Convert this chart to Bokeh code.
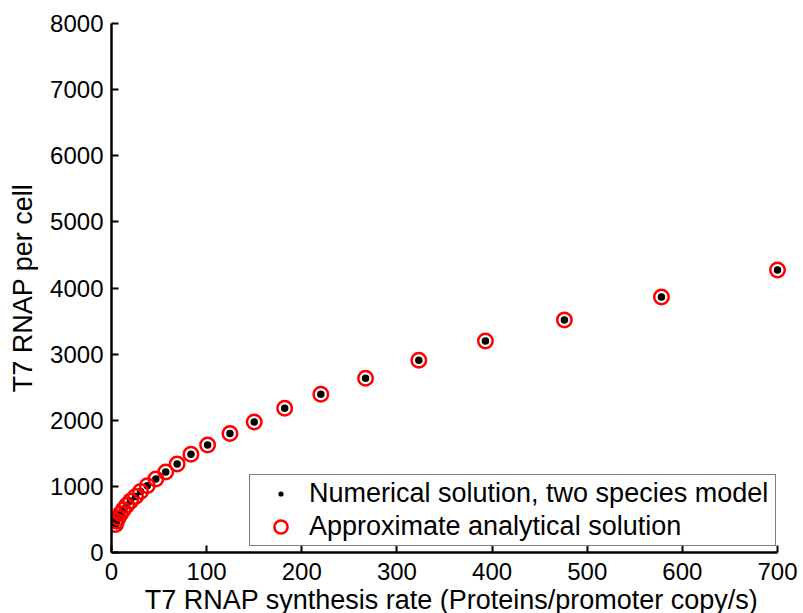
from bokeh.plotting import figure
from bokeh.models import Range1d, FixedTicker, Legend, LegendItem, ColumnDataSource
from bokeh.embed import file_html
from bokeh.resources import INLINE

# ---- data ----
synthesis_rate = [4.2, 5.3, 7.0, 9.5, 12.3, 15.8, 20.0, 25.3, 30.5, 37.6, 46.6, 57.0,
                  69.0, 83.5, 101.0, 124.5, 150.0, 182.0, 220.0, 267.0, 323.0, 393.0,
                  476.0, 578.0, 700.0]
rnap_numerical = [424, 474, 526, 586, 647, 712, 777, 848, 924, 1011, 1111, 1217,
                  1338, 1485, 1626, 1798, 1974, 2182, 2394, 2636, 2909, 3197,
                  3515, 3864, 4273]
rnap_analytical = [424, 474, 526, 586, 647, 712, 777, 848, 924, 1011, 1111, 1217,
                   1338, 1485, 1626, 1798, 1974, 2182, 2394, 2636, 2909, 3197,
                   3515, 3864, 4273]
x_ticks = [0, 100, 200, 300, 400, 500, 600, 700]
y_ticks = [0, 1000, 2000, 3000, 4000, 5000, 6000, 7000, 8000]
legend_labels = ["Numerical solution, two species model", "Approximate analytical solution"]
x_label = "T7 RNAP synthesis rate (Proteins/promoter copy/s)"
y_label = "T7 RNAP per cell"

source = ColumnDataSource(dict(x=synthesis_rate, num=rnap_numerical, ana=rnap_analytical))

FONT = "Liberation Sans"

p = figure(frame_width=680, frame_height=529,
           min_border_left=111, min_border_right=12, min_border_top=23, min_border_bottom=61,
           x_range=Range1d(0, 714.7), y_range=Range1d(0, 8000),
           output_backend="svg", toolbar_location=None)
p.outline_line_color = None
p.grid.visible = False
p.background_fill_color = "white"
p.border_fill_color = "white"

# legend swatch for the small black dot: drawn first (white on white, hidden under the marks);
# in the legend its white stroke trims the swatch down to a small dot
r_num_key = p.scatter("x", "num", source=source, marker="circle", size=1,
                      line_color="white", line_width=8, fill_color="black")
# data marks
r_num = p.scatter("x", "num", source=source, marker="circle", size=7.5,
                  line_color=None, fill_color="black")
r_ana = p.scatter("x", "ana", source=source, marker="circle", size=14.5,
                  line_color="#ff0000", line_width=2.5, fill_color=None)

xa = p.xaxis[0]
xa.ticker = FixedTicker(ticks=x_ticks)
xa.bounds = (0, 700)
ya = p.yaxis[0]
ya.ticker = FixedTicker(ticks=y_ticks)

for ax in (xa, ya):
    ax.axis_line_width = 2.5
    ax.axis_line_color = "black"
    ax.major_tick_line_width = 2
    ax.major_tick_line_color = "black"
    ax.major_tick_in = 7
    ax.major_tick_out = 0
    ax.minor_tick_line_color = None
    ax.major_label_text_font = FONT
    ax.major_label_text_font_size = "24px"
    ax.major_label_text_color = "black"
    ax.axis_label_text_font = FONT
    ax.axis_label_text_font_size = "27px"
    ax.axis_label_text_font_style = "normal"
    ax.axis_label_text_color = "black"

xa.axis_label = x_label
ya.axis_label = y_label
xa.major_label_standoff = 10
ya.major_label_standoff = 8
xa.axis_label_standoff = 2
ya.axis_label_standoff = 9

legend = Legend(items=[LegendItem(label=legend_labels[0], renderers=[r_num_key]),
                       LegendItem(label=legend_labels[1], renderers=[r_ana])],
                location=(138, 6), orientation="vertical",
                padding=2, spacing=0, margin=0,
                glyph_width=57, glyph_height=33, label_height=33, label_standoff=0,
                label_width=464,
                label_text_font=FONT, label_text_font_size="27px",
                label_text_color="black",
                border_line_color="black", border_line_width=1.3,
                background_fill_color="white", background_fill_alpha=1)
p.add_layout(legend, "center")

open("out.html", "w").write(file_html(p, INLINE))
